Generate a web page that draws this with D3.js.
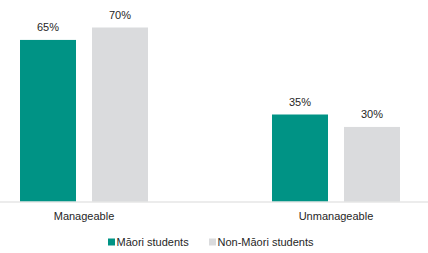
<!DOCTYPE html>
<meta charset="utf-8">
<script src="https://d3js.org/d3.v7.min.js"></script>
<style>
  body { margin: 0; background: #fff; }
  text { font-family: "Liberation Sans", Arial, sans-serif; fill: #262626; }
</style>
<body>
<div id="chart"></div>
<script>
  var categories = ["Manageable", "Unmanageable"];
  var series = ["Māori students", "Non-Māori students"];
  var maoriValues = [65, 35];
  var nonMaoriValues = [70, 30];
  var colors = ["#009385", "#dadbdd"];

  var width = 428, height = 253;

  var svg = d3.select("#chart")
    .append("svg")
      .attr("width", width)
      .attr("height", height);

  var data = categories.map(function (c, i) {
    return { category: c, values: [maoriValues[i], nonMaoriValues[i]] };
  });

  // group scale and bar-in-group scale
  var x0 = d3.scaleBand()
    .domain(categories)
    .range([0, 420])
    .paddingInner(124 / 252)
    .paddingOuter(0.0794);

  var x1 = d3.scaleBand()
    .domain(series)
    .range([0, x0.bandwidth()])
    .paddingInner(16 / 72);

  var y = d3.scaleLinear()
    .domain([0, 70])
    .range([201.5, 27.5]);

  var groups = svg.append("g").selectAll("g")
    .data(data)
    .enter()
    .append("g")
      .attr("transform", function (d) { return "translate(" + x0(d.category) + ",0)"; });

  groups.selectAll("rect")
    .data(function (d) { return d.values.map(function (v, j) { return { s: series[j], v: v, j: j }; }); })
    .enter()
    .append("rect")
      .attr("x", function (d) { return x1(d.s); })
      .attr("y", function (d) { return y(d.v); })
      .attr("width", x1.bandwidth())
      .attr("height", function (d) { return y(0) - y(d.v); })
      .style("fill", function (d) { return colors[d.j]; });

  groups.selectAll("text.val")
    .data(function (d) { return d.values.map(function (v, j) { return { s: series[j], v: v }; }); })
    .enter()
    .append("text")
      .attr("class", "val")
      .attr("x", function (d) { return x1(d.s) + x1.bandwidth() / 2; })
      .attr("y", function (d) { return y(d.v) - 9; })
      .attr("text-anchor", "middle")
      .style("font-size", "11px")
      .text(function (d) { return d.v + "%"; });

  // baseline
  svg.append("line")
    .attr("x1", 0).attr("x2", width)
    .attr("y1", y(0) + 0.5).attr("y2", y(0) + 0.5)
    .style("stroke", "#d9d9d9")
    .style("stroke-width", 1);

  // category labels
  svg.append("g").selectAll("text")
    .data(categories)
    .enter()
    .append("text")
      .attr("x", function (d) { return x0(d) + x0.bandwidth() / 2; })
      .attr("y", 219.5)
      .attr("text-anchor", "middle")
      .style("font-size", "11px")
      .text(function (d) { return d; });

  // legend
  var legendX = [108, 209];
  var legend = svg.append("g").selectAll("g")
    .data(series)
    .enter()
    .append("g")
      .attr("transform", function (d, i) { return "translate(" + legendX[i] + ",238.5)"; });

  legend.append("rect")
    .attr("width", 7).attr("height", 7)
    .style("fill", function (d, i) { return colors[i]; });

  legend.append("text")
    .attr("x", 8.5).attr("y", 7)
    .style("font-size", "11px")
    .text(function (d) { return d; });
</script>
</body>
